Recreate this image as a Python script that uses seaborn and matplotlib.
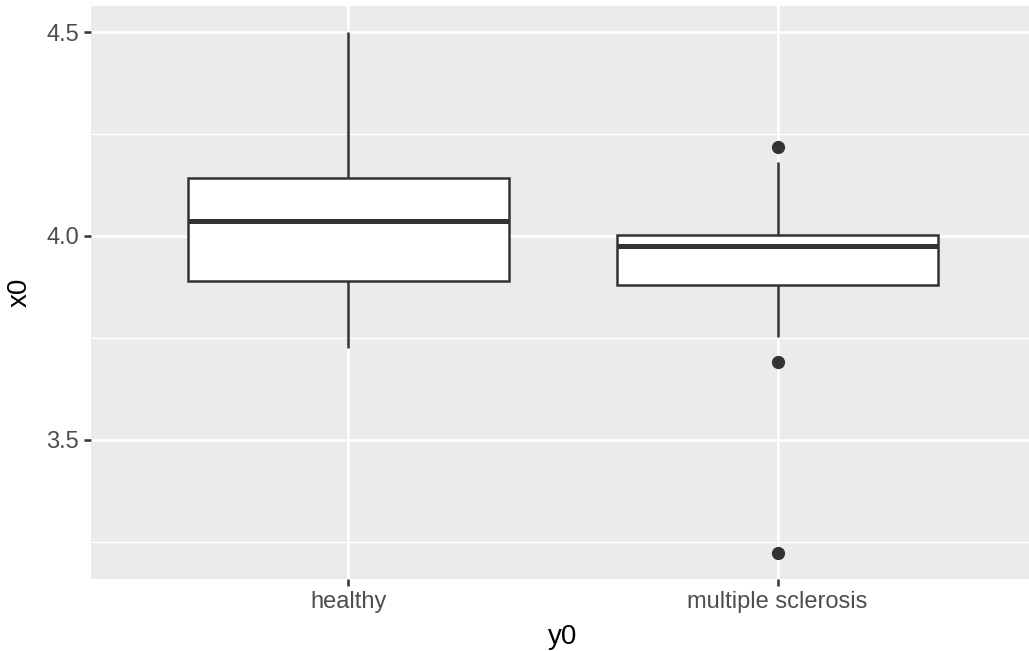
import pandas as pd
import matplotlib
matplotlib.use("Agg")
import matplotlib.pyplot as plt
from matplotlib.ticker import FixedLocator
import seaborn as sns

# values (box stats reproduced by raw points)
groups = ["healthy", "multiple sclerosis"]
healthy = [3.724, 3.888, 4.036, 4.142, 4.5]
ms = [3.222, 3.690, 3.751, 3.880, 3.910, 3.940, 3.975,
      3.985, 3.995, 4.002, 4.060, 4.181, 4.217]
y_major = [3.5, 4.0, 4.5]
y_minor = [3.25, 3.75, 4.25]

df = pd.DataFrame({
    "y0": [groups[0]] * len(healthy) + [groups[1]] * len(ms),
    "x0": healthy + ms,
})

sns.set_theme(style="white")
plt.rcParams["font.family"] = ["Liberation Sans", "DejaVu Sans"]

fig = plt.figure(figsize=(10.29, 6.51), dpi=100)
# panel runs slightly past the right edge like the reference
ax = fig.add_axes([91 / 1029, (651 - 579) / 651, (1035 - 91) / 1029, (579 - 6) / 651])
ax.set_facecolor("#EBEBEB")

dark = "#333333"
sns.boxplot(data=df, x="y0", y="x0", order=groups, color="white", saturation=1,
            linecolor=dark, linewidth=1.8, width=0.75, whis=1.5, showcaps=False,
            medianprops=dict(color=dark, linewidth=3.6),
            flierprops=dict(marker="o", markersize=8.5, markerfacecolor=dark,
                            markeredgecolor=dark),
            ax=ax, zorder=3)

ax.set_xlim(-0.6, 1.6)
ax.set_ylim(3.158, 4.564)
ax.yaxis.set_major_locator(FixedLocator(y_major))
ax.yaxis.set_minor_locator(FixedLocator(y_minor))
ax.set_yticklabels(["3.5", "4.0", "4.5"])

ax.grid(which="major", color="white", linewidth=1.9, zorder=0)
ax.grid(which="minor", axis="y", color="white", linewidth=0.95, zorder=0)
ax.set_axisbelow(True)

for s in ax.spines.values():
    s.set_visible(False)

ax.tick_params(axis="both", which="major", length=4.8, width=1.8, color=dark,
               labelsize=17, labelcolor="#4D4D4D", pad=4)
ax.tick_params(axis="y", which="minor", length=0)
ax.tick_params(bottom=True, left=True)

ax.set_xlabel("y0", fontsize=20, color="black")
ax.set_ylabel("x0", fontsize=20, color="black")
ax.xaxis.set_label_coords((563 - 91) / (1035 - 91), -0.079)
ax.yaxis.set_label_coords(-(91 - 33) / (1035 - 91), 0.5)

fig.savefig("out.png", dpi=100)
